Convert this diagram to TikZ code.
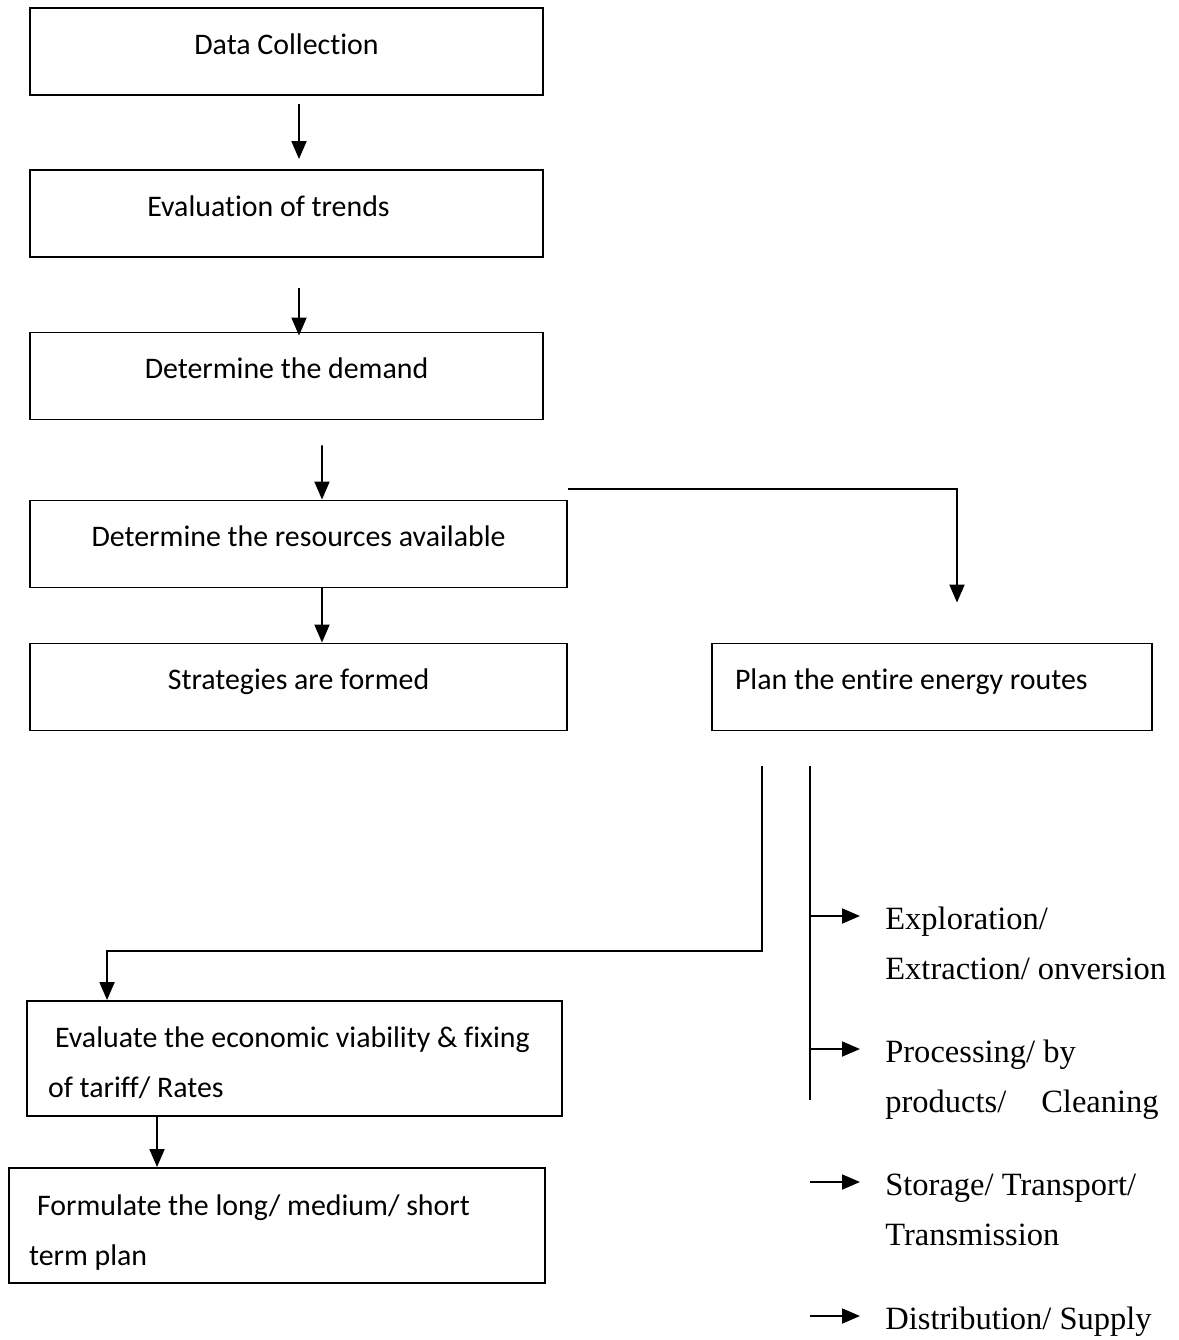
\documentclass[tikz,border=0pt]{standalone}
\usepackage{fontspec}
\setmainfont{Carlito}[Ligatures=NoCommon]
\newfontfamily\serifitem{Liberation Serif}
\usetikzlibrary{arrows.meta}

\tikzset{
  box/.style={draw,line width=1.1pt,minimum height=1.74cm,inner sep=0pt,
    font=\fontsize{17}{28.45}\selectfont,text height=0.45cm,text depth=0.35cm},
  widebox/.style={draw,line width=1.1pt,minimum height=2.3cm,inner ysep=0pt,
    align=flush left,font=\fontsize{17}{28.45}\selectfont},
  item/.style={anchor=base west,inner xsep=0.5cm,inner ysep=0pt,align=flush left,
    font=\serifitem\fontsize{18.5}{28.45}\selectfont},
  link/.style={line width=1.1pt},
  arr/.style={line width=1.1pt,-{Triangle[length=0.36cm,width=0.3cm]}}
}

\begin{document}
\begin{tikzpicture}[x=0.02cm,y=-0.02cm]
  \useasboundingbox (0,0) rectangle (1179,1340);

  % main column
  \node[box,minimum width=10.26cm] (data) at (286.5,51.5) {Data Collection};
  \node[box,minimum width=10.26cm] (trend) at (286.5,213.5) {Evaluation of trends\hspace*{0.72cm}};
  \node[box,minimum width=10.26cm] (demand) at (286.5,376) {Determine the demand};
  \node[box,minimum width=10.74cm] (resrc) at (298.5,544) {Determine the resources available};
  \node[box,minimum width=10.74cm] (strat) at (298.5,687) {Strategies are formed};
  \node[box,minimum width=8.8cm,text width=7.88cm,inner xsep=0.46cm,align=flush left] (plan) at (932,687) {Plan the entire energy routes};

  \draw[arr] ([xshift=0.25cm,yshift=-0.16cm]data.south) -- ([xshift=0.25cm,yshift=0.2cm]trend.north);
  \draw[arr] ([xshift=0.25cm,yshift=-0.6cm]trend.south) -- ([xshift=0.25cm,yshift=-0.08cm]demand.north);
  \draw[arr] ([xshift=0.71cm,yshift=-0.5cm]demand.south) -- ([xshift=0.47cm]resrc.north);
  \draw[arr] ([xshift=0.47cm]resrc.south) -- ([xshift=0.47cm]strat.north);

  % branch to the routes
  \coordinate (planin) at ([xshift=0.5cm,yshift=0.8cm]plan.north);
  \draw[arr] ([yshift=0.22cm]resrc.north east) -| (planin);

  % lower left boxes
  \node[widebox,minimum width=10.7cm,text width=9.86cm,inner xsep=0.42cm] (eval) at (294.5,1058.5)
    {\rule{0pt}{0.6cm}\hspace*{0.14cm}Evaluate the economic viability \& fixing\\of tariff/ Rates};
  \node[widebox,minimum width=10.72cm,text width=9.92cm,inner xsep=0.4cm] (form) at (277,1225.5)
    {\rule{0pt}{0.7cm}\hspace*{0.16cm}Formulate the long/ medium/ short\\term plan};

  \coordinate (split) at (762,766);
  \draw[arr] (split) |- ([xshift=-3.75cm,yshift=0.98cm]eval.north) -- ([xshift=-3.75cm]eval.north);
  \draw[arr] ([xshift=-2.75cm]eval.south) -- ([xshift=-2.4cm]form.north);

  % right hand list
  \coordinate (rtop) at (810,766);
  \coordinate (rbot) at (810,1100);
  \draw[link] (rtop) -- (rbot);
  \coordinate (s1) at (810,916);
  \coordinate (s2) at (810,1049);
  \coordinate (s3) at (810,1182);
  \coordinate (s4) at (810,1316);
  \node[item] (expl) at (860,979) {Exploration/\\Extraction/ onversion};
  \node[item] (proc) at (860,1112) {Processing/ by\\products/\hspace{0.7cm}Cleaning};
  \node[item] (stor) at (860,1245) {Storage/ Transport/\\Transmission};
  \node[item] (dist) at (860,1329) {Distribution/ Supply};
  \draw[arr] (s1) -- (s1 -| expl.west);
  \draw[arr] (s2) -- (s2 -| proc.west);
  \draw[arr] (s3) -- (s3 -| stor.west);
  \draw[arr] (s4) -- (s4 -| dist.west);
\end{tikzpicture}
\end{document}
